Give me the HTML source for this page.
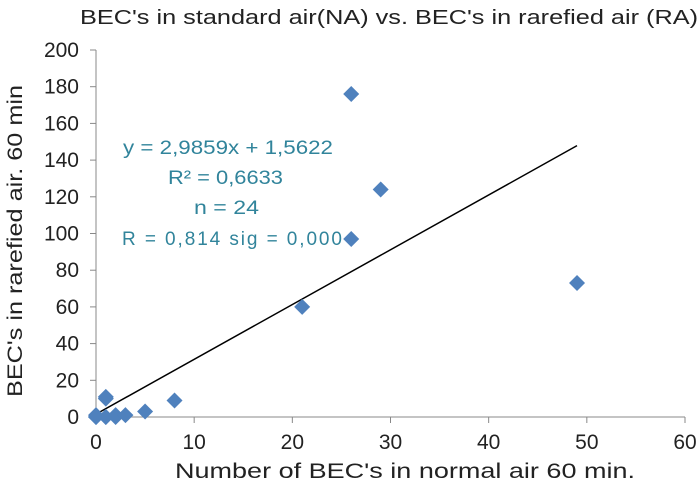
<!DOCTYPE html>
<html><head><meta charset="utf-8"><style>
body{margin:0;background:#fff;}
svg text{font-family:"Liberation Sans",sans-serif;}
</style></head><body>
<svg id="chart" width="700" height="487" xmlns="http://www.w3.org/2000/svg">
<text x="80" y="24" font-size="20" textLength="618" lengthAdjust="spacingAndGlyphs" fill="#222">BEC's in standard air(NA) vs. BEC's in rarefied air (RA)</text>
<text x="175" y="478" font-size="21" textLength="460" lengthAdjust="spacingAndGlyphs" fill="#222">Number of BEC's in normal air 60 min.</text>
<text transform="translate(22,397) rotate(-90)" font-size="21" textLength="312" lengthAdjust="spacingAndGlyphs" fill="#222">BEC's in rarefied air. 60 min</text>
<g id="axes"></g>
<g id="marks"></g>
<g fill="#31849b" font-size="19">
<text x="123" y="154" textLength="210" lengthAdjust="spacingAndGlyphs">y = 2,9859x + 1,5622</text>
<text x="168" y="184" textLength="115" lengthAdjust="spacingAndGlyphs">R² = 0,6633</text>
<text x="194" y="214" textLength="65" lengthAdjust="spacingAndGlyphs">n = 24</text>
<text x="122" y="245" textLength="220" lengthAdjust="spacing">R = 0,814  sig = 0,000</text>
</g>
</svg>
<script>
const xTicks=[0,10,20,30,40,50,60];
const yTicks=[0,20,40,60,80,100,120,140,160,180,200];
const xs=[0,0,1,1,1,2,2,3,5,8,21,26,26,29,49,0,1];
const ys=[0,1,0,10,11,0,1,1,3,9,60,97,176,124,73,0,0];
const slope=2.9859, intercept=1.5622, fitRange=[0,49];
const X=v=>96+v*(685-96)/60, Y=v=>417-v*(417-50)/200;
const NS="http://www.w3.org/2000/svg";
function mk(t,a,p){const e=document.createElementNS(NS,t);for(const k in a)e.setAttribute(k,a[k]);p.appendChild(e);return e;}
const ax=document.getElementById('axes'),mg=document.getElementById('marks');
let l=mk('line',{x1:X(0),y1:Y(0),x2:X(60),y2:Y(0),stroke:'#888','stroke-width':1},ax);


l=mk('line',{x1:X(0),y1:Y(0),x2:X(0),y2:Y(200),stroke:'#888','stroke-width':1},ax);


xTicks.forEach(v=>{mk('line',{x1:X(v),y1:Y(0),x2:X(v),y2:Y(0)+6,stroke:'#888'},ax);
const t=mk('text',{x:X(v),y:449,'font-size':21,'text-anchor':'middle',fill:'#222'},ax);t.textContent=v;

});
yTicks.forEach(v=>{mk('line',{x1:X(0)-6,y1:Y(v),x2:X(0),y2:Y(v),stroke:'#888'},ax);
const t=mk('text',{x:79,y:Y(v)+7,'font-size':21,'text-anchor':'end',fill:'#222'},ax);t.textContent=v;

});
l=mk('line',{x1:X(fitRange[0]),y1:Y(intercept+slope*fitRange[0]),x2:X(fitRange[1]),y2:Y(intercept+slope*fitRange[1]),stroke:'#000','stroke-width':1.5},mg);


xs.forEach((x,i)=>{const cx=X(x),cy=Y(ys[i]),r=8;
const p=mk('polygon',{points:`${cx},${cy-r} ${cx+r},${cy} ${cx},${cy+r} ${cx-r},${cy}`,fill:'#4f81bd'},mg);

});
</script>
</body></html>
